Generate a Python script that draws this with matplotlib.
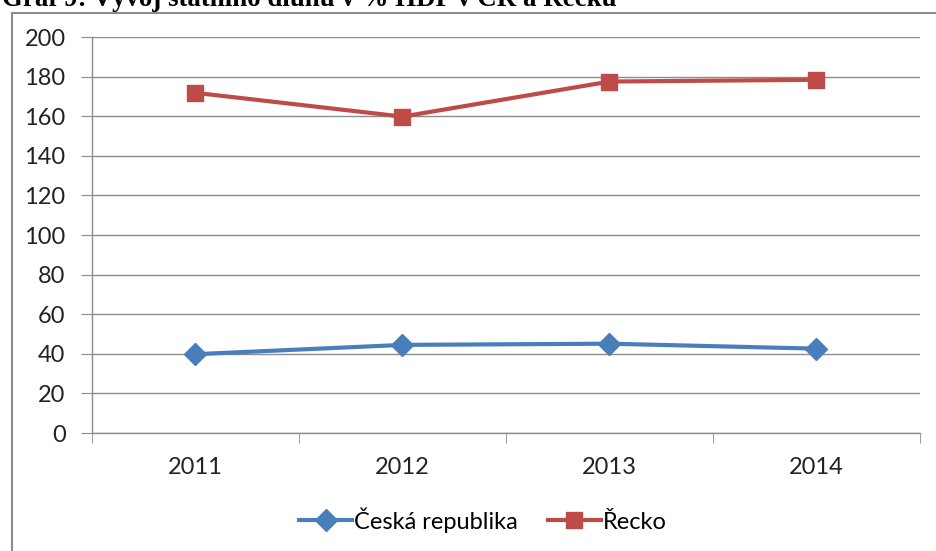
import matplotlib.pyplot as plt
from matplotlib.lines import Line2D

years = ['2011', '2012', '2013', '2014']
cz_values = [39.8, 44.5, 45.1, 42.6]
gr_values = [171.8, 159.8, 177.5, 178.4]
series_names = ['Česká republika', 'Řecko']
title = 'Graf 9: Vývoj státního dluhu v % HDP v ČR a Řecku'

plt.rcParams['font.family'] = ['Lato', 'DejaVu Sans']

fig = plt.figure(figsize=(9.37, 5.51), dpi=100)
ax = fig.add_axes([92 / 937, 1 - 433 / 551, 828 / 937, 396 / 551])

x = list(range(len(years)))
ax.plot(x, cz_values, color='#4A7EBB', lw=3, marker='D', markersize=11, label=series_names[0])
ax.plot(x, gr_values, color='#BE4B48', lw=3, marker='s', markersize=12, label=series_names[1])

ax.set_xlim(-0.5, 3.5)
ax.set_ylim(0, 200)
ax.set_yticks(range(0, 201, 20))
ax.grid(axis='y', color='#8c8c8c', lw=1)
ax.set_axisbelow(True)
for s in ['top', 'right']:
    ax.spines[s].set_visible(False)
for s in ['left', 'bottom']:
    ax.spines[s].set_color('#8c8c8c')
    ax.spines[s].set_linewidth(1)

# category labels centred, tick marks on the boundaries
ax.set_xticks(x)
ax.set_xticklabels(years)
ax.set_xticks([i - 0.5 for i in range(len(years) + 1)], minor=True)
ax.tick_params(axis='x', which='major', length=0, pad=17, labelsize=17, labelcolor='#222222')
ax.tick_params(axis='x', which='minor', length=7, color='#8c8c8c')
ax.tick_params(axis='y', length=8, color='#8c8c8c', pad=11, labelsize=17, labelcolor='#222222')

ax.legend(loc='center', bbox_to_anchor=(483 / 937, 1 - 520 / 551), bbox_transform=fig.transFigure,
          ncol=2, frameon=False, fontsize=17, handlelength=2.25, handletextpad=0.1,
          columnspacing=1.25)

# outer chart frame (partly cut off)
fig.add_artist(Line2D([12 / 937, 12 / 937], [0, 1 - 13 / 551], color='#8c8c8c', lw=1.5))
fig.add_artist(Line2D([12 / 937, 1], [1 - 13 / 551, 1 - 13 / 551], color='#8c8c8c', lw=1.5))

fig.text(0.002, 1 - 6 / 551, title, family='Liberation Serif', weight='bold', fontsize=19.4,
         va='baseline', ha='left')

fig.savefig('out.png', dpi=100)
